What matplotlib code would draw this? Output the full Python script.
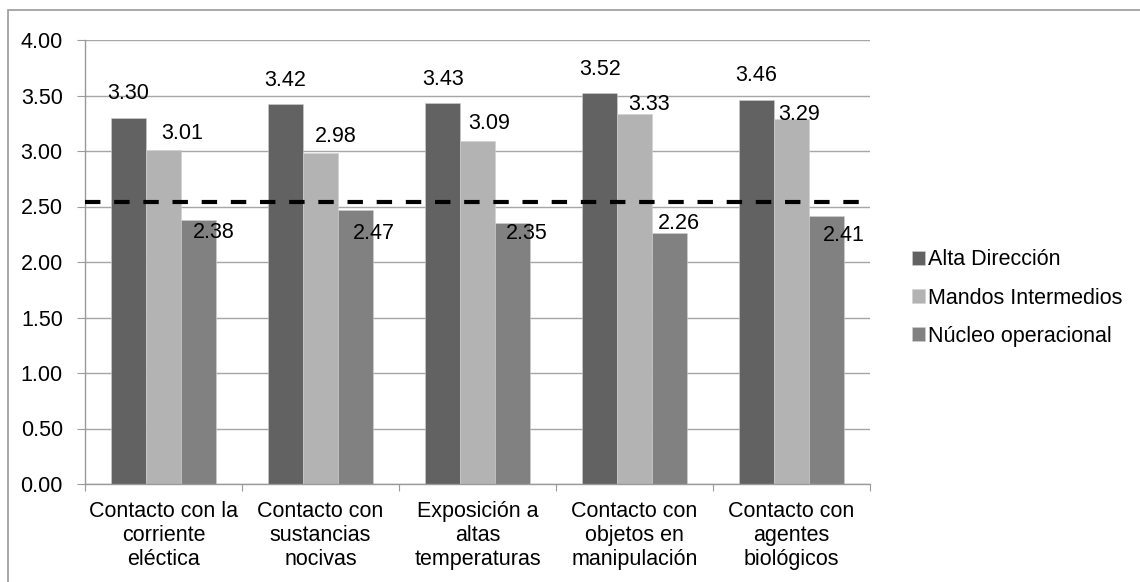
import matplotlib
matplotlib.use('Agg')
import matplotlib.pyplot as plt
from matplotlib.patches import Rectangle
import numpy as np

plt.rcParams['font.family'] = ['Liberation Sans', 'DejaVu Sans']

# data
categories = ['Contacto con la\ncorriente\neléctica',
              'Contacto con\nsustancias\nnocivas',
              'Exposición a\naltas\ntemperaturas',
              'Contacto con\nobjetos en\nmanipulación',
              'Contacto con\nagentes\nbiológicos']
series_names = ['Alta Dirección', 'Mandos Intermedios', 'Núcleo operacional']
alta_direccion = [3.30, 3.42, 3.43, 3.52, 3.46]
mandos_intermedios = [3.01, 2.98, 3.09, 3.33, 3.29]
nucleo_operacional = [2.38, 2.47, 2.35, 2.26, 2.41]
reference_level = 2.54
yticks = [0.0, 0.5, 1.0, 1.5, 2.0, 2.5, 3.0, 3.5, 4.0]

colors = ['#626262', '#b3b3b3', '#818181']

# label offsets in pixels (dx, dy from bar top) - labels were hand placed in the original
label_offsets = [
    [(0, 24), (0, 24), (0, 24), (0, 24), (0, 24)],
    [(19, 16), (15, 17), (12, 18), (15, 10), (8, 4)],
    [(15, -13), (19, -24), (14, -10), (10, 10), (17, -19)],
]

fig = plt.figure(figsize=(11.4, 5.82), dpi=100)
W, H = 1140, 582
ax = fig.add_axes([85 / W, (H - 484) / H, (870 - 85) / W, (484 - 40) / H])

# outer chart frame
fig.add_artist(Rectangle((8 / W, -0.05), 1.2, (H - 10) / H + 0.05,
                         transform=fig.transFigure, fill=False,
                         edgecolor='#9a9a9a', linewidth=1.2))

x = np.arange(len(categories))
w = 0.222
all_series = [alta_direccion, mandos_intermedios, nucleo_operacional]
px2pt = 72 / fig.dpi
for j, (vals, name) in enumerate(zip(all_series, series_names)):
    xs = x + (j - 1) * w
    ax.bar(xs, vals, width=w, color=colors[j], edgecolor='#d0d0d0',
           linewidth=0.4, label=name, zorder=2)
    for i, (xi, v) in enumerate(zip(xs, vals)):
        dx, dy = label_offsets[j][i]
        ax.annotate(f'{v:.2f}', (xi, v), xytext=(dx * px2pt, dy * px2pt),
                    textcoords='offset points', ha='center', va='center',
                    fontsize=15.5, color='black', zorder=4)

ax.axhline(reference_level, color='black', linewidth=3,
           linestyle=(0, (3.7, 3.3)), zorder=3)

ax.set_xlim(-0.5, len(categories) - 0.5)
ax.set_ylim(0, 4)
ax.set_yticks(yticks)
ax.set_yticklabels([f'{t:.2f}' for t in yticks])
ax.yaxis.grid(True, color='#a6a6a6', linewidth=1.0, zorder=0)
ax.set_axisbelow(True)

ax.set_xticks(np.arange(len(categories) + 1) - 0.5)
ax.set_xticklabels([])
ax.set_xticks(x, minor=True)
ax.set_xticklabels(categories, minor=True, fontsize=15.5, linespacing=1.2)
ax.tick_params(axis='x', which='minor', length=0, pad=12)
ax.tick_params(axis='x', which='major', length=5, color='#9a9a9a', direction='out')
ax.tick_params(axis='y', length=6, color='#9a9a9a', labelsize=15.5, pad=10)

for s in ['top', 'right']:
    ax.spines[s].set_visible(False)
for s in ['left', 'bottom']:
    ax.spines[s].set_color('#9a9a9a')
    ax.spines[s].set_linewidth(1.0)

ax.legend(loc='center left', bbox_to_anchor=(901 / W, (H - 298) / H),
          bbox_transform=fig.transFigure, frameon=False, fontsize=15.5,
          handlelength=0.62, handleheight=0.62, handletextpad=0.12,
          labelspacing=0.8, borderpad=0)

fig.savefig('out.png', dpi=100, facecolor='white')
plt.close(fig)
